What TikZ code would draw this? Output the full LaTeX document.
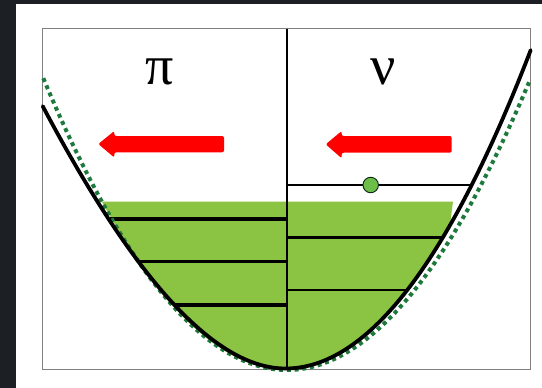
\documentclass[tikz,border=0pt]{standalone}
\usepackage{fontspec}
\setmainfont{Liberation Serif}
\definecolor{bgdark}{HTML}{1C1F23}
\definecolor{gfill}{RGB}{139,195,67}
\definecolor{gdot}{RGB}{30,122,60}
\definecolor{dotfill}{RGB}{108,190,72}
\definecolor{rectgray}{HTML}{808080}
\begin{document}
\begin{tikzpicture}[x=1pt,y=-1pt,
  blackcurve/.style={line width=3.8pt, line cap=round, line join=round},
  dottedcurve/.style={draw=gdot, line width=4pt, dash pattern=on 4pt off 3.8pt},
  level/.style={line width=3.2pt},
  levelthin/.style={line width=2.6pt},
  redarrow/.style={fill=red, rounded corners=2pt},
  greek/.style={font=\fontsize{56}{56}\selectfont, inner sep=0pt}
]
\useasboundingbox (0,0) rectangle (542,388);
\fill[bgdark] (0,0) rectangle (542,388);
\fill[white] (16,4) rectangle (542,388);

% green fill
\fill[gfill] (101.7,201.5) -- plot[domain=101.7:287, samples=50] (\x,{370-0.00492*(\x-287)*(\x-287)})
  -- plot[domain=287:450, samples=50] (\x,{368.5-0.0053*(\x-285.5)*(\x-285.5)}) -- (453,201.5) -- cycle;

% frame
\draw[rectgray, line width=1pt] (42.7,28.7) rectangle (530.5,369);

% divider
\draw[line width=1.7pt] (287.3,28.7) -- (287.3,369);

% levels (pi side)
\draw[level] (110,219) -- (287.3,219);
\draw[level] (138.4,261.7) -- (287.3,261.7);
\draw[level] (174.5,305) -- (287.3,305);
% levels (nu side)
\draw[levelthin] (287.3,185) -- (471.6,185);
\draw[levelthin] (287.3,237.7) -- (442.6,237.7);
\draw[levelthin] (287.3,290) -- (407.2,290);

% dotted green potential
\draw[dottedcurve] plot[domain=43.3:529, samples=150] (\x,{370-0.00492*(\x-287)*(\x-287)});

% black potential
\draw[blackcurve] plot[domain=42.7:285.5, samples=120] (\x,{368.5-0.005951*(\x-285.5)*(\x-285.5)/(1+0.001394*abs(\x-285.5))})
  -- plot[domain=285.5:530.7, samples=120] (\x,{368.5-0.0053*(\x-285.5)*(\x-285.5)});

% arrows
\fill[redarrow] (98.3,144) -- (114.3,131) -- (114.3,136) -- (224,136) -- (224,152.3) -- (114.3,152.3) -- (114.3,157.5) -- cycle;
\fill[redarrow] (325.7,144.3) -- (341.7,131) -- (341.7,136) -- (451.7,136) -- (451.7,152.7) -- (341.7,152.7) -- (341.7,158.3) -- cycle;

% particle
\node[circle, fill=dotfill, draw=black!70!gdot, line width=0.9pt, minimum size=15.5pt, inner sep=0pt] (dot) at (370.7,185) {};

% labels
\node[greek] (pi) at (159.3,71.5) {π};
\node[greek] (nu) at (383,71.5) {ν};
\end{tikzpicture}
\end{document}
